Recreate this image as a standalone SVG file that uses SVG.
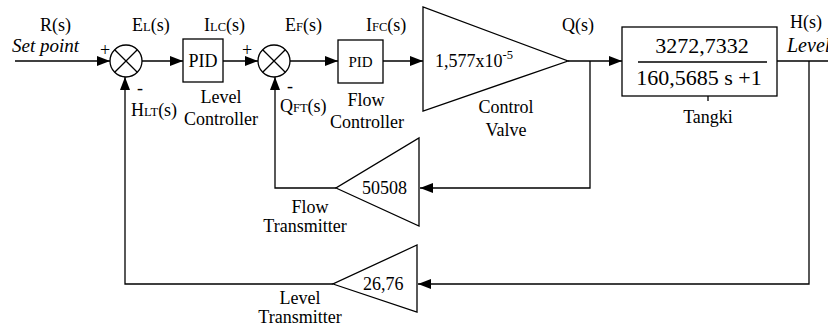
<svg xmlns="http://www.w3.org/2000/svg" width="828" height="329" viewBox="0 0 828 329" font-family="'Liberation Serif', 'DejaVu Serif', serif">
<defs>
<marker id="arr" markerUnits="userSpaceOnUse" markerWidth="14" markerHeight="10" refX="13" refY="5" orient="auto">
<path d="M0,0 L13,5 L0,10 Z" fill="#000"/>
</marker>
<style>
.ln{fill:none;stroke:#000;stroke-width:1.3}
.sh{fill:#fff;stroke:#000;stroke-width:1.3}
text{font-family:'Liberation Serif','DejaVu Serif',serif;font-size:18px;fill:#000}
.it{font-style:italic}
.sub{font-size:12.5px}
.c{text-anchor:middle}
</style>
</defs>
<g id="connectors">
<path class="ln" d="M15,61 H110" marker-end="url(#arr)"/>
<path class="ln" d="M142,61 H183" marker-end="url(#arr)"/>
<path class="ln" d="M223,61 H258" marker-end="url(#arr)"/>
<path class="ln" d="M290,61 H338" marker-end="url(#arr)"/>
<path class="ln" d="M383,61 H423" marker-end="url(#arr)"/>
<path class="ln" d="M568,61 H622" marker-end="url(#arr)"/>
<path class="ln" d="M777,61 H828"/>
<path class="ln" d="M590,61 V188 H420" marker-end="url(#arr)"/>
<path class="ln" d="M336,188 H275 V77" marker-end="url(#arr)"/>
<path class="ln" d="M809,61 V284 H418" marker-end="url(#arr)"/>
<path class="ln" d="M333,284 H125 V77" marker-end="url(#arr)"/>
</g>
<g id="input-labels">
<text x="40" y="31">R(s)</text>
<text x="12" y="52" class="it" style="font-size:19px">Set point</text>
</g>
<g id="sum1">
<circle class="sh" cx="126" cy="61" r="16"/>
<path class="ln" d="M114.7,49.7 L137.3,72.3 M137.3,49.7 L114.7,72.3"/>
<text x="100" y="56">+</text>
<text x="137" y="94">-</text>
<text x="131" y="116">H<tspan class="sub">LT</tspan>(s)</text>
</g>
<g id="el-label"><text x="132" y="31">E<tspan class="sub">L</tspan>(s)</text></g>
<g id="pid-level">
<rect class="sh" x="183" y="39" width="40" height="43"/>
<text x="203" y="67" class="c">PID</text>
<text x="221" y="103" class="c">Level</text>
<text x="221" y="125" class="c">Controller</text>
</g>
<g id="ilc-label"><text x="204" y="31">I<tspan class="sub">LC</tspan>(s)</text></g>
<g id="sum2">
<circle class="sh" cx="274" cy="61" r="16"/>
<path class="ln" d="M262.7,49.7 L285.3,72.3 M285.3,49.7 L262.7,72.3"/>
<text x="242" y="56">+</text>
<text x="287" y="92">-</text>
<text x="280" y="112">Q<tspan class="sub">FT</tspan>(s)</text>
</g>
<g id="ef-label"><text x="285" y="31">E<tspan class="sub">F</tspan>(s)</text></g>
<g id="pid-flow">
<rect class="sh" x="338" y="40" width="45" height="43"/>
<text x="360.5" y="67" class="c" style="font-size:15px">PID</text>
<text x="366" y="106" class="c">Flow</text>
<text x="367" y="128" class="c">Controller</text>
</g>
<g id="ifc-label"><text x="366" y="31">I<tspan class="sub">FC</tspan>(s)</text></g>
<g id="control-valve">
<path class="sh" d="M423,7 L423,111 L568,61 Z"/>
<text x="435" y="67">1,577x10<tspan class="sub" dy="-8">-5</tspan></text>
<text x="506" y="113" class="c">Control</text>
<text x="506" y="136" class="c">Valve</text>
</g>
<g id="q-label"><text x="562" y="31">Q(s)</text></g>
<g id="tangki">
<rect class="sh" x="622" y="27" width="155" height="69"/>
<path class="ln" d="M638,62 H767"/>
<text x="702" y="53" class="c" style="font-size:22px">3272,7332</text>
<text x="699" y="85" class="c" style="font-size:22px">160,5685 s +1</text>
<path class="ln" d="M708,96 V101"/>
<text x="708" y="123" class="c">Tangki</text>
</g>
<g id="output-labels">
<text x="790" y="28">H(s)</text>
<text x="787" y="52" class="it" style="font-size:20px">Level</text>
</g>
<g id="flow-transmitter">
<path class="sh" d="M419,138 L419,226 L336,188 Z"/>
<text x="362" y="194">50508</text>
<text x="310" y="213" class="c">Flow</text>
<text x="305" y="232" class="c">Transmitter</text>
</g>
<g id="level-transmitter">
<path class="sh" d="M417,245 L417,312 L333,284 Z"/>
<text x="363" y="290">26,76</text>
<text x="300" y="304" class="c">Level</text>
<text x="300" y="323" class="c">Transmitter</text>
</g>
</svg>
